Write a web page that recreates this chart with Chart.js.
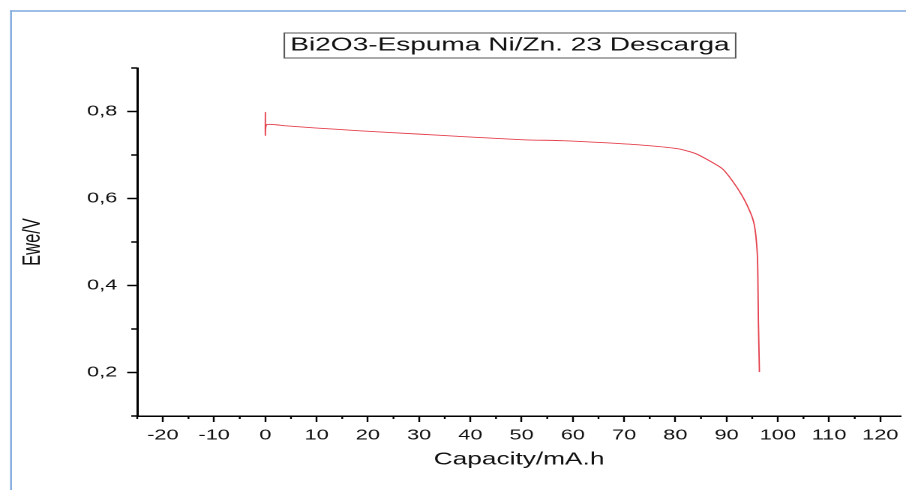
<!DOCTYPE html>
<html>
<head>
<meta charset="utf-8">
<script src="https://cdn.jsdelivr.net/npm/chart.js@4"></script>
<style>
    html, body { margin: 0; padding: 0; background: #fff; }
    #wrap { position: relative; width: 906px; height: 490px; overflow: hidden; }
    #chart { display: block; }
</style>
</head>
<body>
<div id="wrap">
    <canvas id="chart" width="604" height="490" style="width:906px;height:490px"></canvas>
</div>
<script>
// the reference looks stretched sideways (text too), so the chart is drawn
// at 604px wide and shown at 906px
const chartTitle = 'Bi2O3-Espuma Ni/Zn. 23 Descarga';
const xTitle = 'Capacity/mA.h';
const yTitle = 'Ewe/V';

const capacity = [0, 0, 0, 0.3, 4, 10, 18, 30, 37.5, 50.5, 58, 66.6, 74.3, 80.7, 84, 87.2, 89.2, 91.1, 93, 94.6, 95.3, 95.7, 96.0, 96.1, 96.2, 96.4];
const voltage = [0.770, 0.798, 0.745, 0.770, 0.767, 0.762, 0.756, 0.748, 0.743, 0.735, 0.733, 0.728, 0.722, 0.714, 0.703, 0.683, 0.668, 0.641, 0.607, 0.569, 0.545, 0.515, 0.470, 0.420, 0.320, 0.201];

const xTicks = [-20, -10, 0, 10, 20, 30, 40, 50, 60, 70, 80, 90, 100, 110, 120];
const xMinorTicks = [-25, -15, -5, 5, 15, 25, 35, 45, 55, 65, 75, 85, 95, 105, 115];
const yTicks = [0.2, 0.4, 0.6, 0.8];
const yMinorTicks = [0.1, 0.3, 0.5, 0.7, 0.9];

Chart.defaults.font.family = '"Liberation Sans", Arial, sans-serif';
Chart.defaults.color = '#111';

// light blue frame, minor ticks and the boxed title
const extras = {
    id: 'extras',
    beforeDraw(chart) {
        const ctx = chart.ctx;
        ctx.save();
        ctx.fillStyle = '#86aee0';
        ctx.fillRect(6.7, 10.2, 1.3, 490);
        ctx.fillRect(6.7, 10.2, 604, 1.6);
        ctx.restore();
    },
    afterDraw(chart) {
        const ctx = chart.ctx;
        const x = chart.scales.x;
        const y = chart.scales.y;
        const area = chart.chartArea;
        ctx.save();
        ctx.strokeStyle = '#000';
        ctx.lineWidth = 1.2;
        xMinorTicks.forEach(v => {
            const px = x.getPixelForValue(v);
            ctx.beginPath();
            ctx.moveTo(px, area.bottom);
            ctx.lineTo(px, area.bottom + 3);
            ctx.stroke();
        });
        ctx.lineWidth = 1.5;
        yMinorTicks.forEach(v => {
            const py = y.getPixelForValue(v);
            ctx.beginPath();
            ctx.moveTo(area.left - 4, py);
            ctx.lineTo(area.left, py);
            ctx.stroke();
        });

        ctx.font = '18.7px "Liberation Sans", Arial, sans-serif';
        ctx.fillStyle = '#111';
        ctx.textAlign = 'center';
        ctx.textBaseline = 'middle';
        ctx.fillText(chartTitle, 340, 45.5);
        const w = ctx.measureText(chartTitle).width;
        ctx.strokeStyle = '#555';
        ctx.lineWidth = 1;
        ctx.strokeRect(340 - w / 2 - 4, 33, w + 8, 25);
        ctx.restore();
    }
};

const ctx = document.getElementById('chart').getContext('2d');
new Chart(ctx, {
    type: 'scatter',
    data: {
        datasets: [{
            data: capacity.map((c, i) => ({ x: c, y: voltage[i] })),
            showLine: true,
            borderColor: '#e4404d',
            borderWidth: 0.9,
            pointRadius: 0,
            tension: 0.2
        }]
    },
    options: {
        responsive: false,
        devicePixelRatio: 2,
        animation: false,
        layout: { padding: { top: 68, left: 0, right: 0, bottom: 0 } },
        plugins: {
            legend: { display: false },
            tooltip: { enabled: false }
        },
        scales: {
            x: {
                type: 'linear',
                min: -25,
                max: 124,
                afterBuildTicks: scale => { scale.ticks = xTicks.map(v => ({ value: v })); },
                afterFit: scale => { scale.height = 74; },
                grid: { drawOnChartArea: false, tickLength: 6, tickColor: '#000', tickWidth: 1.2 },
                border: { display: true, color: '#000', width: 1.5 },
                ticks: { font: { size: 14.5 }, padding: 5, maxRotation: 0, color: '#111' },
                title: {
                    display: true,
                    text: xTitle,
                    font: { size: 17.5 },
                    padding: { top: 0, bottom: 20 },
                    color: '#111'
                }
            },
            y: {
                type: 'linear',
                min: 0.1,
                max: 0.9,
                afterBuildTicks: scale => { scale.ticks = yTicks.map(v => ({ value: v })); },
                afterFit: scale => { scale.width = 91.5; },
                grid: { drawOnChartArea: false, tickLength: 6.7, tickColor: '#000', tickWidth: 1.5 },
                border: { display: true, color: '#000', width: 1.5 },
                ticks: {
                    font: { size: 14.5 },
                    padding: 6.6,
                    color: '#111',
                    callback: v => v.toFixed(1).replace('.', ',')
                },
                title: {
                    display: true,
                    text: yTitle,
                    font: { size: 16.5 },
                    padding: { top: 12, bottom: 0 },
                    color: '#111'
                }
            }
        }
    },
    plugins: [extras]
});
</script>
</body>
</html>
